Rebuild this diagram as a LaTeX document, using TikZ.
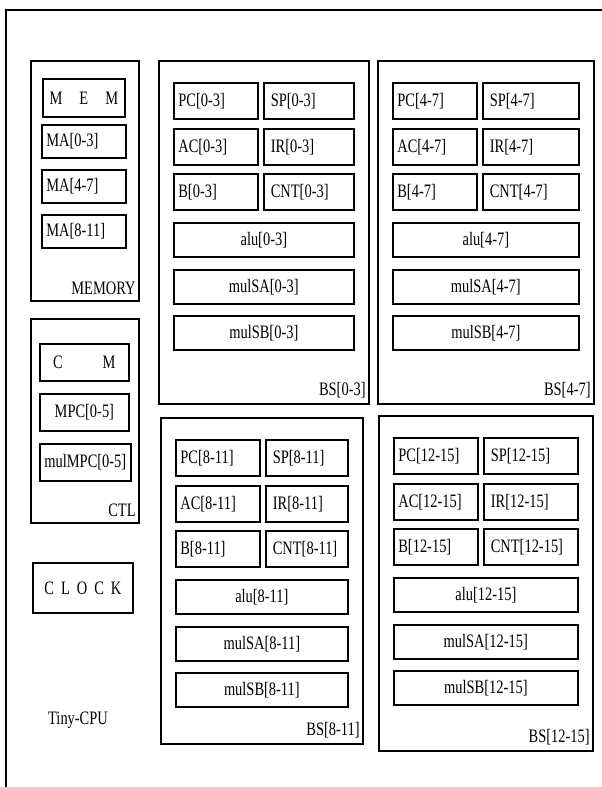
\documentclass[tikz,border=0pt]{standalone}
\usepackage{fontspec}
\setmainfont[FakeStretch=0.76]{Liberation Serif}
\usetikzlibrary{positioning}
\exhyphenpenalty=10000
\hyphenpenalty=10000

\begin{document}
\begin{tikzpicture}[x=1pt, y=-1pt, font=\fontsize{19}{22}\selectfont,
  unitbox/.style={draw, line width=1.8pt, inner sep=0pt, anchor=north west},
  reg/.style={draw, line width=1.7pt, anchor=north west, minimum height=36pt,
    inner ysep=0pt, inner xsep=4.5pt, text width=75pt, align=left},
  regr/.style={reg, inner xsep=7pt},
  wide/.style={draw, line width=1.7pt, anchor=north west, minimum height=34pt, inner sep=0pt},
  tag/.style={inner sep=4pt}]

  % Page and outer frame
  \useasboundingbox (0,0) rectangle (602,787);
  \clip (0,0) rectangle (602,787);
  \draw[line width=1.8pt] (6,10) rectangle (650,830);

  % Memory unit
  \node[unitbox, minimum width=108pt, minimum height=240pt] (memory) at (30,60) {};
  \node[tag, above left=3pt and 0pt of memory.south east] (memorylabel) {MEMORY};
  \node[wide, minimum width=82pt, minimum height=38pt] (mem) at (42,78) {M\hspace{17pt}E\hspace{17pt}M};
  \node[reg, minimum height=33pt] (ma0) at (41,124) {MA[0-3]};
  \node[reg, minimum height=33pt] (ma1) at (41,169) {MA[4-7]};
  \node[reg, minimum height=33pt] (ma2) at (41,214) {MA[8-11]};

  % Control unit
  \node[unitbox, minimum width=108pt, minimum height=204pt] (ctl) at (30,318) {};
  \node[tag, above left=3pt and 0pt of ctl.south east] (ctllabel) {CTL};
  \node[wide, minimum width=89pt, minimum height=37pt] (cm) at (39,343) {C\hspace{40pt}M};
  \node[wide, minimum width=89pt, minimum height=37pt] (mpc) at (39,393) {MPC[0-5]};
  \node[wide, minimum width=91pt, minimum height=37pt] (mulmpc) at (39,443) {mulMPC[0-5]};

  % Clock and title
  \node[wide, minimum width=100pt, minimum height=50pt] (clock) at (32,562)
    {C\hspace{7pt}L\hspace{7pt}O\hspace{7pt}C\hspace{7pt}K};
  \node (title) at (78,720) {Tiny-CPU};

  % Bit slices
  \foreach \n/\x/\y/\w/\h/\r in {0/158/60/210/343/0-3, 1/377/60/216/343/4-7,
                                 2/160/417/202/326/8-11, 3/378/415/214/335/12-15} {
    \pgfmathsetmacro\rt{\w-134}
    \pgfmathsetmacro\ww{\w-30}
    \node[unitbox, minimum width=\w pt, minimum height=\h pt] (bs\n) at (\x,\y) {};
    \node[tag, above left=3pt and 0pt of bs\n.south east] (bslabel\n) {BS[\r]};
    \node[reg] (pc\n) at (\x+15,\y+22) {PC[\r]};
    \node[regr, text width=\rt pt] (sp\n) at (\x+105,\y+22) {SP[\r]};
    \node[reg] (ac\n) at (\x+15,\y+68) {AC[\r]};
    \node[regr, text width=\rt pt] (ir\n) at (\x+105,\y+68) {IR[\r]};
    \node[reg] (b\n) at (\x+15,\y+113) {B[\r]};
    \node[regr, text width=\rt pt] (cnt\n) at (\x+105,\y+113) {CNT[\r]};
    \node[wide, minimum width=\ww pt] (alu\n) at (\x+15,\y+162) {alu[\r]};
    \node[wide, minimum width=\ww pt] (mulsa\n) at (\x+15,\y+209) {mulSA[\r]};
    \node[wide, minimum width=\ww pt] (mulsb\n) at (\x+15,\y+255) {mulSB[\r]};
  }
\end{tikzpicture}
\end{document}
